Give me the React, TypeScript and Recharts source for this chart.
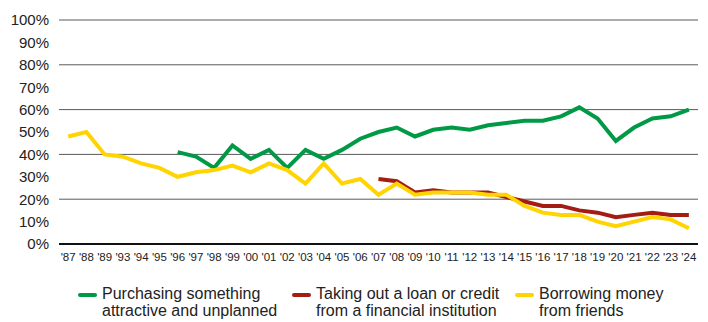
import { CartesianGrid, Legend, Line, LineChart, XAxis, YAxis } from 'recharts';

const years = [
  "'87", "'88", "'89", "'93", "'94", "'95", "'96", "'97", "'98", "'99", "'00", "'01",
  "'02", "'03", "'04", "'05", "'06", "'07", "'08", "'09", "'10", "'11", "'12", "'13",
  "'14", "'15", "'16", "'17", "'18", "'19", "'20", "'21", "'22", "'23", "'24",
];

const purchasing: (number | null)[] = [
  null, null, null, null, null, null, 41, 39, 34, 44, 38, 42,
  34, 42, 38, 42, 47, 50, 52, 48, 51, 52, 51, 53,
  54, 55, 55, 57, 61, 56, 46, 52, 56, 57, 60,
];

const loan: (number | null)[] = [
  null, null, null, null, null, null, null, null, null, null, null, null,
  null, null, null, null, null, 29, 28, 23, 24, 23, 23, 23,
  21, 19, 17, 17, 15, 14, 12, 13, 14, 13, 13,
];

const borrowing: (number | null)[] = [
  48, 50, 40, 39, 36, 34, 30, 32, 33, 35, 32, 36,
  33, 27, 36, 27, 29, 22, 27, 22, 23, 23, 23, 22,
  22, 17, 14, 13, 13, 10, 8, 10, 12, 11, 7,
];

const yTicks = [0, 10, 20, 30, 40, 50, 60, 70, 80, 90, 100];

const series = [
  { key: 'purchasing', color: '#009a46', lines: ['Purchasing something', 'attractive and unplanned'], x: 78 },
  { key: 'loan', color: '#a41d12', lines: ['Taking out a loan or credit', 'from a financial institution'], x: 292 },
  { key: 'borrowing', color: '#ffd400', lines: ['Borrowing money', 'from friends'], x: 515 },
];

const data = years.map((year, i) => ({
  year,
  purchasing: purchasing[i],
  loan: loan[i],
  borrowing: borrowing[i],
}));

const FONT = '"Liberation Sans", Arial, sans-serif';

function LegendBlock() {
  return (
    <div style={{ position: 'relative', width: 708, height: 52, fontFamily: FONT, color: '#222' }}>
      {series.map((s) => (
        <div key={s.key} style={{ position: 'absolute', left: s.x, top: 15, display: 'flex' }}>
          <div
            style={{
              width: 19,
              height: 4,
              borderRadius: 2,
              background: s.color,
              marginTop: 8,
              marginRight: 5,
            }}
          />
          <div style={{ fontSize: 16, lineHeight: '17px', whiteSpace: 'nowrap' }}>
            {s.lines.map((l) => (
              <div key={l}>{l}</div>
            ))}
          </div>
        </div>
      ))}
    </div>
  );
}

export default function App() {
  return (
    <div style={{ position: 'absolute', left: 0, top: 0, width: 708, height: 322, background: '#fff' }}>
      <LineChart width={708} height={322} data={data} margin={{ top: 20, right: 10, bottom: 0, left: 0 }}>
        <CartesianGrid vertical={false} stroke="#5a5a5a" strokeWidth={1} />
        <XAxis
          dataKey="year"
          scale="band"
          interval={0}
          tickLine={false}
          tickSize={0}
          tickMargin={9}
          height={26}
          axisLine={{ stroke: '#111', strokeWidth: 2 }}
          tick={{ fontSize: 11.5, fill: '#222', fontFamily: FONT }}
        />
        <YAxis
          domain={[0, 100]}
          ticks={yTicks}
          width={59}
          axisLine={false}
          tickLine={false}
          tickSize={0}
          tickMargin={10}
          tickFormatter={(v: number) => `${v}%`}
          tick={{ fontSize: 15, fill: '#222', fontFamily: FONT }}
        />
        <Legend verticalAlign="bottom" height={52} content={() => <LegendBlock />} />
        {series.map((s) => (
          <Line
            key={s.key}
            dataKey={s.key}
            type="linear"
            stroke={s.color}
            strokeWidth={4}
            dot={false}
            activeDot={false}
            isAnimationActive={false}
          />
        ))}
      </LineChart>
    </div>
  );
}
